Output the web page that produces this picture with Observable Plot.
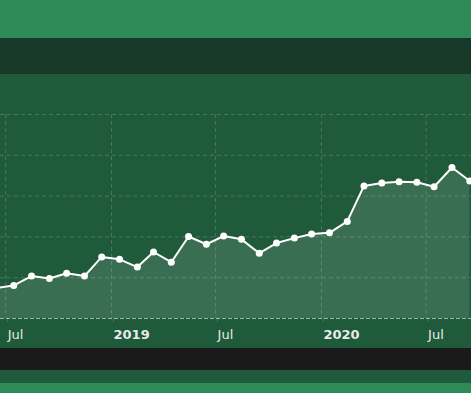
<!DOCTYPE html>
<html>
<head>
<meta charset="utf-8">
<script src="https://cdn.jsdelivr.net/npm/d3@7"></script>
<script src="https://cdn.jsdelivr.net/npm/@observablehq/plot@0.6"></script>
<style>
  html, body { margin: 0; padding: 0; background: #2e8b57; width: 471px; height: 393px; overflow: hidden; }
  #top { height: 38px; background: #2e8b57; }
  #bar { height: 36px; background: #163a27; }
  #chart { height: 274px; background: #1f5a3b; }
  #chart svg { display: block; }
  #foot1 { height: 22px; background: #1a1a1a; }
  #foot2 { height: 13px; background: #1f5a3b; }
</style>
</head>
<body>
<div id="top"></div>
<div id="bar"></div>
<div id="chart"></div>
<div id="foot1"></div>
<div id="foot2"></div>
<script>
// Monthly values (mid-month points)
const months = [
  "2018-06-15","2018-07-15","2018-08-15","2018-09-15","2018-10-15","2018-11-15","2018-12-15",
  "2019-01-15","2019-02-15","2019-03-15","2019-04-15","2019-05-15","2019-06-15","2019-07-15",
  "2019-08-15","2019-09-15","2019-10-15","2019-11-15","2019-12-15",
  "2020-01-15","2020-02-15","2020-03-15","2020-04-15","2020-05-15","2020-06-15","2020-07-15",
  "2020-08-15","2020-09-15"
];
const values = [
  7.5, 8.1, 10.4, 9.8, 11.1, 10.4, 15.1,
  14.5, 12.6, 16.3, 13.8, 20.1, 18.2, 20.2,
  19.4, 16.0, 18.5, 19.7, 20.7,
  21.0, 23.8, 32.5, 33.2, 33.5, 33.4, 32.3,
  37.0, 33.7
];
const yearTicks = ["2019-01-01", "2020-01-01"];
const julTicks = ["2018-07-01", "2019-07-01", "2020-07-01"];
const yTicks = [0, 10, 20, 30, 40, 50];
const xDomain = ["2018-06-22", "2020-09-18"];

const parse = d3.utcParse("%Y-%m-%d");
const data = months.map((m, i) => ({date: parse(m), value: values[i]}));
const yearDates = yearTicks.map(parse);
const julDates = julTicks.map(parse);

const gridStroke = "rgba(255,255,255,0.18)";
const chart = Plot.plot({
  width: 471,
  height: 274,
  marginLeft: 0,
  marginRight: 0,
  marginTop: 40,
  marginBottom: 30,
  style: {background: "transparent", fontFamily: "DejaVu Sans, Verdana, sans-serif", fontSize: "13px", color: "#e6ece8"},
  x: {type: "utc", domain: xDomain.map(parse)},
  y: {domain: [0, 50], axis: null},
  marks: [
    Plot.gridY(yTicks.slice(1), {stroke: gridStroke, strokeOpacity: 1, strokeDasharray: "4,3"}),
    Plot.gridX([...julDates, ...yearDates], {stroke: gridStroke, strokeOpacity: 1, strokeDasharray: "4,3"}),
    Plot.areaY(data, {x: "date", y: "value", fill: "white", fillOpacity: 0.12, clip: true}),
    Plot.ruleY([0], {stroke: "rgba(255,255,255,0.55)", strokeDasharray: "4,2"}),
    Plot.lineY(data, {x: "date", y: "value", stroke: "white", strokeWidth: 2, clip: true}),
    Plot.dot(data, {x: "date", y: "value", r: 3.5, fill: "white", stroke: "none", clip: true}),
    Plot.axisX(julDates, {tickFormat: () => "Jul", textAnchor: "start", dx: 2, tickSize: 4, tickPadding: 7, stroke: gridStroke, fill: "#e6ece8", fontSize: 13, label: null}),
    Plot.axisX(yearDates, {tickFormat: d3.utcFormat("%Y"), textAnchor: "start", dx: 2, tickSize: 4, tickPadding: 7, stroke: gridStroke, fill: "#e6ece8", fontWeight: "bold", fontSize: 13, label: null})
  ]
});
document.getElementById("chart").appendChild(chart);
</script>
</body>
</html>
